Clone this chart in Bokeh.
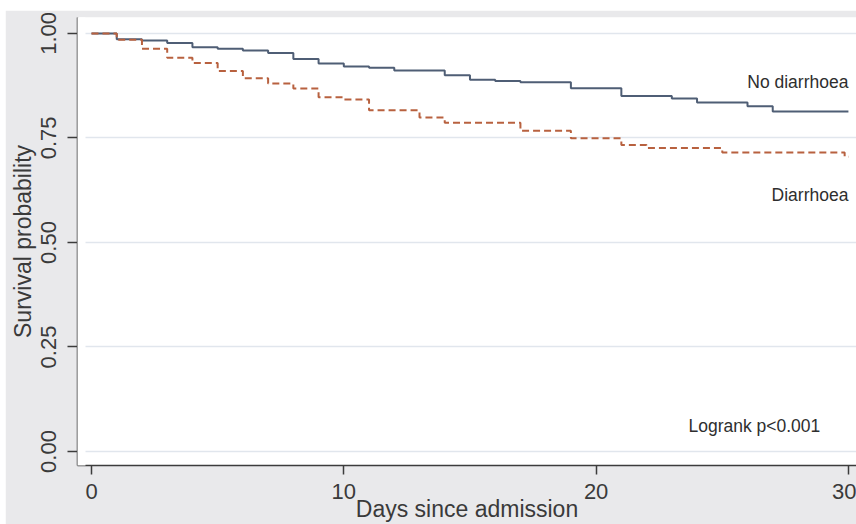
from bokeh.plotting import figure
from bokeh.models import Range1d, FixedTicker, Label, NumeralTickFormatter, BoxAnnotation
from bokeh.embed import file_html
from bokeh.resources import INLINE

# Kaplan-Meier estimates
days_no_diarrhoea = [0, 1, 2, 3, 4, 5, 6, 7, 8, 9, 10, 11, 12, 14, 15, 16, 17, 19, 21, 23, 24, 26, 27, 30]
surv_no_diarrhoea = [1.000, 0.986, 0.983, 0.977, 0.967, 0.963, 0.959, 0.953, 0.939, 0.928, 0.921, 0.918,
                     0.911, 0.900, 0.889, 0.886, 0.883, 0.869, 0.850, 0.844, 0.835, 0.826, 0.813, 0.813]

days_diarrhoea = [0, 1, 2, 3, 4, 5, 6, 7, 8, 9, 10, 11, 13, 14, 17, 19, 21, 22, 25, 29.85, 30]
surv_diarrhoea = [1.000, 0.985, 0.963, 0.942, 0.929, 0.910, 0.893, 0.880, 0.868, 0.847, 0.842, 0.816,
                  0.799, 0.786, 0.767, 0.749, 0.733, 0.726, 0.715, 0.705, 0.705]

x_ticks = [0, 10, 20, 30]
y_ticks = [0.0, 0.25, 0.5, 0.75, 1.0]

FONT = "Liberation Sans"
TXT = "#3a3a3a"

p = figure(width=851, height=514,
           x_range=Range1d(-0.555, 30.32), y_range=Range1d(-0.0334, 1.038),
           output_backend="svg", toolbar_location=None,
           min_border_left=72, min_border_right=0, min_border_top=7, min_border_bottom=58)
p.margin = (10, 0, 0, 5)
p.border_fill_color = "#E9E9EB"
p.background_fill_color = "white"
p.outline_line_color = None

# grid
p.xgrid.visible = False
p.ygrid.ticker = FixedTicker(ticks=y_ticks)
p.ygrid.grid_line_color = "#E1E6ED"
p.ygrid.grid_line_width = 1.5

# axes
for ax in (p.xaxis[0], p.yaxis[0]):
    ax.axis_line_color = "#3c3c3c"
    ax.axis_line_width = 1.5
    ax.major_tick_line_color = "#3c3c3c"
    ax.major_tick_line_width = 1.5
    ax.major_tick_in = 0
    ax.minor_tick_line_color = None
    ax.major_label_text_font = FONT
    ax.major_label_text_font_size = "22px"
    ax.major_label_text_color = TXT
    ax.axis_label_text_font = FONT
    ax.axis_label_text_font_size = "23px"
    ax.axis_label_text_font_style = "normal"
    ax.axis_label_text_color = TXT

p.xaxis.ticker = FixedTicker(ticks=x_ticks)
p.xaxis.major_tick_out = 9
p.xaxis.major_label_standoff = 9
p.xaxis.axis_label = "Days since admission"
p.xaxis.axis_label_standoff = -6

p.yaxis.ticker = FixedTicker(ticks=y_ticks)
p.yaxis.formatter = NumeralTickFormatter(format="0.00")
p.yaxis.major_label_orientation = "vertical"
p.yaxis.major_tick_out = 10
p.yaxis.major_label_standoff = 11
p.yaxis.axis_label = "Survival probability"
p.yaxis.axis_label_standoff = 3

# white strip at the far left of the page, as in the reference
p.add_layout(BoxAnnotation(left=-20, right=8, bottom=-2000, top=2000,
                           left_units="screen", right_units="screen",
                           bottom_units="screen", top_units="screen",
                           fill_color="white", fill_alpha=1.0, line_color=None,
                           level="overlay"))

# curves
p.step(days_no_diarrhoea, surv_no_diarrhoea, mode="after",
       line_color="#4F5E75", line_width=2)
p.step(days_diarrhoea, surv_diarrhoea, mode="after",
       line_color="#B8613F", line_width=2, line_dash="7 4")

# annotations
for x, y, t, align in [(30.0, 0.884, "No diarrhoea", "right"),
                       (30.0, 0.613, "Diarrhoea", "right"),
                       (23.66, 0.060, "Logrank p<0.001", "left")]:
    p.add_layout(Label(x=x, y=y, text=t, text_align=align, text_baseline="alphabetic",
                       text_font=FONT, text_font_size="17.5px", text_color="#2e2e2e"))

open("out.html", "w").write(file_html(p, INLINE))
